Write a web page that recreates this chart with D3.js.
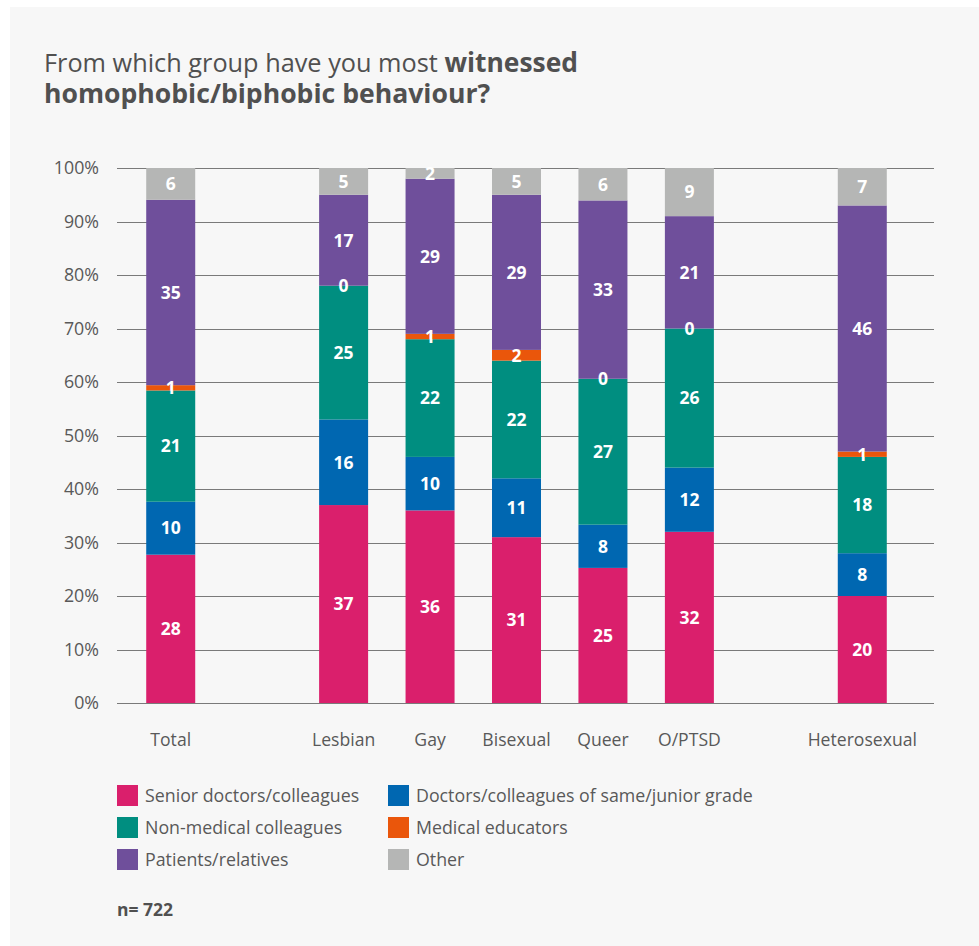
<!DOCTYPE html>
<html>
<head>
<meta charset="utf-8">
<script src="https://cdn.jsdelivr.net/npm/d3@7/dist/d3.min.js"></script>
<style>
  html, body { margin: 0; padding: 0; background: #ffffff; }
  svg { display: block; }
  text { font-family: "Open Sans", Lato, sans-serif; }
</style>
</head>
<body>
<svg id="chart" width="979" height="946"></svg>
<script>
// Respondent groups (spacers keep the gaps around the orientation groups)
const categories = ["Total", "_gap1", "Lesbian", "Gay", "Bisexual", "Queer", "O/PTSD", "_gap2", "Heterosexual"];
const groups = ["Total", "Lesbian", "Gay", "Bisexual", "Queer", "O/PTSD", "Heterosexual"];

// Source of witnessed behaviour, bottom to top of each stack
const sources = [
  "Senior doctors/colleagues",
  "Doctors/colleagues of same/junior grade",
  "Non-medical colleagues",
  "Medical educators",
  "Patients/relatives",
  "Other"
];
const colors = ["#da1f6c", "#0067b1", "#008e80", "#ea560b", "#6f4f9b", "#b5b6b5"];

// Percentages per group, in the order of `groups`
const senior     = [28, 37, 36, 31, 25, 32, 20];
const peerJunior = [10, 16, 10, 11,  8, 12,  8];
const nonMedical = [21, 25, 22, 22, 27, 26, 18];
const educators  = [ 1,  0,  1,  2,  0,  0,  1];
const patients   = [35, 17, 29, 29, 33, 21, 46];
const other      = [ 6,  5,  2,  5,  6,  9,  7];

const yTicks = [0, 10, 20, 30, 40, 50, 60, 70, 80, 90, 100];
const sampleSize = "n= 722";

const seriesValues = [senior, peerJunior, nonMedical, educators, patients, other];
const rows = groups.map((g, i) => {
  const row = { group: g };
  sources.forEach((s, k) => { row[s] = seriesValues[k][i]; });
  return row;
});

const svg = d3.select("#chart");
const W = 979, H = 946;
const FONT = "'Open Sans', Lato, sans-serif";
const TEXT = "#595959";

// Panel background
svg.append("rect").attr("x", 10).attr("y", 7).attr("width", W - 10).attr("height", H - 7).attr("fill", "#f7f7f7");

// Title
const title = svg.append("text").attr("x", 44).attr("y", 72).attr("fill", "#505050").attr("font-size", 25.3);
title.append("tspan").text("From which group have you most ");
title.append("tspan").attr("font-weight", "bold").attr("font-size", 26.4).text("witnessed");
svg.append("text").attr("x", 44).attr("y", 103).attr("fill", "#505050").attr("font-size", 26.6)
  .attr("font-weight", "bold").text("homophobic/biphobic behaviour?");

const plot = { left: 117, right: 934, top: 168, bottom: 703 };

const x = d3.scaleBand().domain(categories).range([127.5, 905.5]);
const y = d3.scaleLinear().domain([0, 1]).range([plot.bottom, plot.top]);

// Gridlines
svg.append("g").selectAll("line").data(yTicks).join("line")
  .attr("x1", plot.left).attr("x2", plot.right)
  .attr("y1", d => Math.round(y(d / 100)) + 0.5).attr("y2", d => Math.round(y(d / 100)) + 0.5)
  .attr("stroke", "#7a7a7a").attr("stroke-width", 1.2);

// Y axis labels
const yAxis = d3.axisLeft(y).tickValues(yTicks.map(d => d / 100)).tickFormat(d => Math.round(d * 100) + "%").tickSize(0).tickPadding(0);
const yg = svg.append("g").attr("transform", `translate(99,0)`).call(yAxis);
yg.select(".domain").remove();
yg.selectAll("text").attr("font-size", 17.8).attr("fill", TEXT).attr("font-family", FONT);

// X axis labels
const xAxis = d3.axisBottom(x).tickValues(groups).tickSize(0).tickPadding(0);
const xg = svg.append("g").attr("transform", `translate(0,733)`).call(xAxis);
xg.select(".domain").remove();
xg.selectAll("text").attr("font-size", 17.6).attr("fill", TEXT).attr("font-family", FONT);

// Stacks normalised to 100%
const stack = d3.stack().keys(sources).offset(d3.stackOffsetExpand);
const stacked = stack(rows);

const layers = svg.append("g").selectAll("g").data(stacked).join("g")
  .attr("fill", (d, i) => colors[i]);

const bw = 49;
layers.selectAll("rect").data(d => d).join("rect")
  .attr("x", d => x(d.data.group) + x.bandwidth() / 2 - bw / 2)
  .attr("width", bw)
  .attr("y", d => y(d[1]))
  .attr("height", d => y(d[0]) - y(d[1]));

// Value labels
const labels = svg.append("g");
stacked.forEach(layer => {
  layer.forEach(d => {
    labels.append("text")
      .attr("x", x(d.data.group) + x.bandwidth() / 2)
      .attr("y", y((d[0] + d[1]) / 2))
      .attr("dy", "0.36em")
      .attr("text-anchor", "middle")
      .attr("fill", "#ffffff")
      .attr("font-size", 17.5)
      .attr("font-weight", "bold")
      .text(d.data[layer.key]);
  });
});

// Legend
const legendCols = [117, 388];
const legendRows = [785, 817, 849];
const legend = svg.append("g");
sources.forEach((s, i) => {
  const lx = legendCols[i % 2], ly = legendRows[Math.floor(i / 2)];
  legend.append("rect").attr("x", lx).attr("y", ly).attr("width", 21).attr("height", 21).attr("fill", colors[i]);
  legend.append("text").attr("x", lx + 28).attr("y", ly + 11).attr("dy", "0.35em")
    .attr("font-size", 17.8).attr("fill", TEXT).text(s);
});

svg.append("text").attr("x", 117).attr("y", 916).attr("font-size", 17.5).attr("font-weight", "bold")
  .attr("fill", "#505050").text(sampleSize);
</script>
</body>
</html>
